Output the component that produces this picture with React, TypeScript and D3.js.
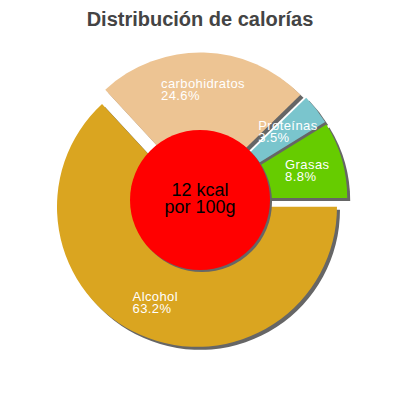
import { useEffect, useRef } from 'react';
import * as d3 from 'd3';

const WIDTH = 400;
const HEIGHT = 400;

// datos de la gráfica
const categories = ['Alcohol', 'carbohidratos', 'Proteínas', 'Grasas'];
const percentages = [63.2, 24.6, 3.5, 8.8];
const sliceColors = ['#DAA520', '#EDC493', '#7AC5CD', '#66CC00'];
const centerLines = ['12 kcal', 'por 100g'];
const title = 'Distribución de calorías';

const FONT = '"Liberation Sans", Arial, sans-serif';
const CX = 200;
const CY = 200;
const RADIUS = 140;
const INNER = 70;
const EXPLODE = 7.5;
const SHADOW = 3;

type Slice = { name: string; value: number; color: string };

export default function App() {
  const svgRef = useRef<SVGSVGElement>(null);

  useEffect(() => {
    if (!svgRef.current) return;
    const svg = d3.select(svgRef.current);
    svg.selectAll('*').remove();

    const data: Slice[] = categories.map((name, i) => ({
      name,
      value: percentages[i],
      color: sliceColors[i],
    }));

    const pie = d3
      .pie<Slice>()
      .sort(null)
      .value(d => d.value)
      .startAngle(Math.PI / 2)
      .endAngle(Math.PI / 2 + 2 * Math.PI);

    const arcs = pie(data);
    const arc = d3.arc<d3.PieArcDatum<Slice>>().innerRadius(0).outerRadius(RADIUS);

    const offset = (d: d3.PieArcDatum<Slice>, r: number) => {
      const a = (d.startAngle + d.endAngle) / 2;
      return [Math.sin(a) * r, -Math.cos(a) * r];
    };

    // Título
    svg
      .append('text')
      .attr('x', WIDTH / 2)
      .attr('y', 26)
      .attr('text-anchor', 'middle')
      .style('font-family', FONT)
      .style('font-size', '20px')
      .style('font-weight', 'bold')
      .style('fill', '#444')
      .text(title);

    const g = svg.append('g').attr('transform', `translate(${CX}, ${CY})`);

    // Sombras
    g.selectAll('.shadow')
      .data(arcs)
      .join('path')
      .attr('class', 'shadow')
      .attr('d', arc)
      .attr('fill', '#666')
      .attr('transform', d => {
        const [dx, dy] = offset(d, EXPLODE);
        return `translate(${dx + SHADOW}, ${dy + SHADOW})`;
      });

    // Porciones
    g.selectAll('.slice')
      .data(arcs)
      .join('path')
      .attr('class', 'slice')
      .attr('d', arc)
      .attr('fill', d => d.data.color)
      .attr('transform', d => {
        const [dx, dy] = offset(d, EXPLODE);
        return `translate(${dx}, ${dy})`;
      });

    // Etiquetas
    arcs.forEach(d => {
      const [lx, ly] = offset(d, 104 + EXPLODE);
      const label = g.append('g');
      const lines = [d.data.name, `${d.data.value.toFixed(1)}%`];
      const texts = lines.map((line, i) =>
        label
          .append('text')
          .attr('y', ly - 1 + i * 12)
          .style('font-family', FONT)
          .style('font-size', '13px')
          .style('letter-spacing', '0.4px')
          .style('fill', '#fff')
          .text(line)
      );
      const w = d3.max(texts, t => (t.node() as SVGTextElement).getComputedTextLength()) || 0;
      texts.forEach(t => t.attr('x', lx - w / 2));
    });

    // Círculo central
    g.append('circle')
      .attr('cx', 2)
      .attr('cy', 2)
      .attr('r', INNER)
      .attr('fill', '#666');
    g.append('circle').attr('r', INNER).attr('fill', '#FF0000');

    centerLines.forEach((line, i) => {
      g.append('text')
        .attr('y', -4 + i * 17)
        .attr('text-anchor', 'middle')
        .style('font-family', FONT)
        .style('font-size', '18px')
        .style('fill', '#000')
        .text(line);
    });
  }, []);

  return (
    <svg
      ref={svgRef}
      width={WIDTH}
      height={HEIGHT}
      style={{ position: 'absolute', left: 0, top: 0, background: '#fff' }}
    />
  );
}
